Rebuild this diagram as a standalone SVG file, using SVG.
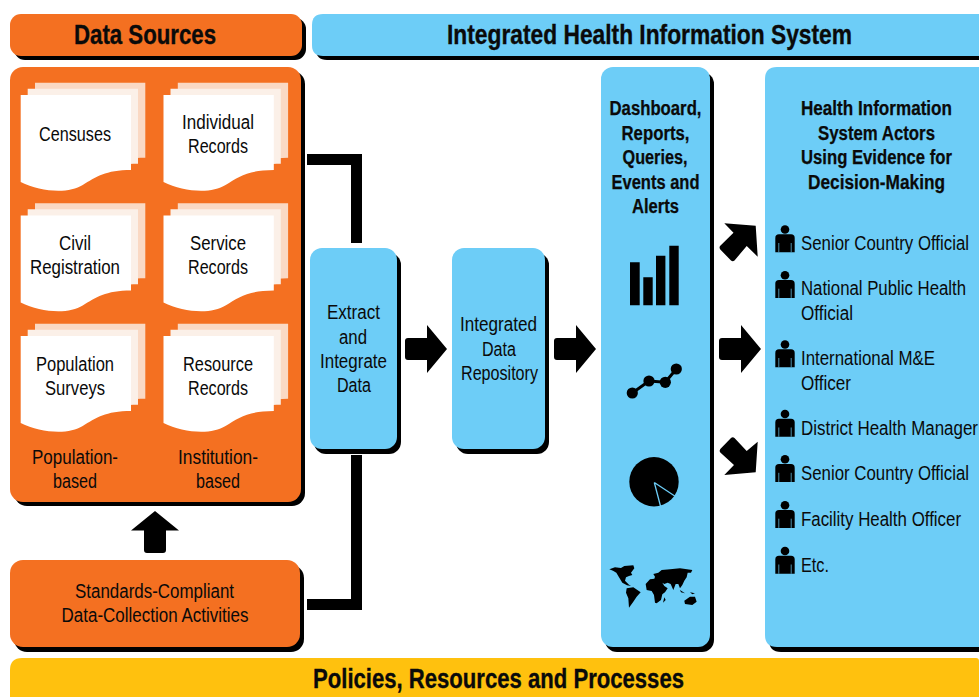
<svg xmlns="http://www.w3.org/2000/svg" width="979" height="697" viewBox="0 0 979 697">
<style>
text{font-family:"Liberation Sans Narrow","Liberation Sans",Arial,sans-serif;fill:#0a0a0a;font-size:20px}
.b{font-weight:bold;stroke:#0a0a0a;stroke-width:0.25}
.h{font-weight:bold;font-size:27px;stroke:#0a0a0a;stroke-width:0.35}
.o{fill:#f47021}.bl{fill:#6dcdf7}.y{fill:#ffc10e}.s{fill:#000}
.d1{fill:#fad9c4}.d2{fill:#fbf0e8}.d3{fill:#fff}
</style>
<defs>
<path id="page" d="M0,0H110.300V75C85,75 75,82 62,90C48,99 20,97 0,87Z"/>
<g id="doc"><use href="#page" class="d1" x="14.300" y="-12.300"/><use href="#page" class="d2" x="7" y="-6.200"/><use href="#page" class="d3"/></g>
<g id="person"><circle cx="10" cy="4.500" r="4.300"/><path d="M0.300,27.200V13Q0.300,9.300 4,9.300H16Q19.700,9.300 19.700,13V27.200Z"/><path d="M3.800,18V27.200M16.200,18V27.200" stroke="#6dcdf7" stroke-width="0.700" fill="none"/></g>
<path id="arr" d="M3,-11H22V-24L42,0L22,24V11H3Q0,11 0,8V-8Q0,-11 3,-11Z"/>
</defs>

<g id="connectors">
<path d="M307,159.500H356.500V243" fill="none" stroke="#000" stroke-width="11"/>
<path d="M307,604.500H356.500V455" fill="none" stroke="#000" stroke-width="11"/>
<path d="M155,511L179,530.500H166V550Q166,553 163,553H147Q144,553 144,550V530.500H131Z"/>
<use href="#arr" x="405" y="349"/>
<use href="#arr" x="554" y="349"/>
<use href="#arr" x="719" y="349"/>
<path d="M724.300,223.300L755.700,225.700L757.700,256.700L746.700,246L734.500,260.500Q732.700,262 731,260.500L720.300,249.500Q718.800,247.500 720.300,245.800L733.500,232.700Z"/>
<path d="M757.700,441.700L755.700,472.300L724.300,475L734,465L720.300,452.500Q718.800,451 720.300,449L731,438Q732.700,436.300 734.500,438L746.700,451Z"/>
</g>

<g id="data-sources-header">
<rect class="s" x="14" y="18" width="292" height="42" rx="11"/>
<rect class="o" x="10" y="14" width="292" height="42" rx="11"/>
<text class="h" x="74" y="44" textLength="142" lengthAdjust="spacingAndGlyphs">Data Sources</text>
</g>
<g id="ihis-header">
<path class="s" d="M327,18H979V60H327Q316,60 316,49V29Q316,18 327,18Z"/>
<path class="bl" d="M323,14H979V56H323Q312,56 312,45V25Q312,14 323,14Z"/>
<text class="h" x="447" y="44" textLength="405" lengthAdjust="spacingAndGlyphs">Integrated Health Information System</text>
</g>

<g id="data-sources">
<rect class="s" x="14" y="71" width="291" height="435" rx="13"/>
<rect class="o" x="10" y="67" width="291" height="435" rx="13"/>
<use href="#doc" x="20.700" y="95"/><use href="#doc" x="163.500" y="95"/>
<use href="#doc" x="20.700" y="215.500"/><use href="#doc" x="163.500" y="215.500"/>
<use href="#doc" x="20.700" y="336"/><use href="#doc" x="163.500" y="336"/>
<text x="39" y="141" textLength="72" lengthAdjust="spacingAndGlyphs">Censuses</text>
<text x="182" y="129" textLength="72" lengthAdjust="spacingAndGlyphs">Individual</text>
<text x="188" y="153" textLength="60" lengthAdjust="spacingAndGlyphs">Records</text>
<text x="59" y="249.500" textLength="32" lengthAdjust="spacingAndGlyphs">Civil</text>
<text x="30" y="274" textLength="90" lengthAdjust="spacingAndGlyphs">Registration</text>
<text x="190" y="249.500" textLength="56" lengthAdjust="spacingAndGlyphs">Service</text>
<text x="188" y="274" textLength="60" lengthAdjust="spacingAndGlyphs">Records</text>
<text x="36" y="371" textLength="78" lengthAdjust="spacingAndGlyphs">Population</text>
<text x="45" y="395" textLength="60" lengthAdjust="spacingAndGlyphs">Surveys</text>
<text x="183" y="371" textLength="70" lengthAdjust="spacingAndGlyphs">Resource</text>
<text x="188" y="395" textLength="60" lengthAdjust="spacingAndGlyphs">Records</text>
<text x="32" y="464" textLength="86" lengthAdjust="spacingAndGlyphs">Population-</text>
<text x="53" y="488" textLength="44" lengthAdjust="spacingAndGlyphs">based</text>
<text x="178" y="464" textLength="80" lengthAdjust="spacingAndGlyphs">Institution-</text>
<text x="196" y="488" textLength="44" lengthAdjust="spacingAndGlyphs">based</text>
</g>

<g id="standards">
<rect class="s" x="14" y="565" width="290" height="87" rx="13"/>
<rect class="o" x="10" y="560" width="290" height="87" rx="13"/>
<text x="75" y="597.500" textLength="159" lengthAdjust="spacingAndGlyphs">Standards-Compliant</text>
<text x="61.500" y="622" textLength="187" lengthAdjust="spacingAndGlyphs">Data-Collection Activities</text>
</g>

<g id="extract">
<rect class="s" x="314" y="253" width="87" height="201" rx="12"/>
<rect class="bl" x="310" y="248" width="87" height="201" rx="12"/>
<text x="327" y="319" textLength="53" lengthAdjust="spacingAndGlyphs">Extract</text>
<text x="339" y="344" textLength="28" lengthAdjust="spacingAndGlyphs">and</text>
<text x="320" y="368" textLength="67" lengthAdjust="spacingAndGlyphs">Integrate</text>
<text x="337" y="392" textLength="34" lengthAdjust="spacingAndGlyphs">Data</text>
</g>

<g id="repository">
<rect class="s" x="456" y="253" width="93" height="201" rx="12"/>
<rect class="bl" x="452" y="248" width="93" height="201" rx="12"/>
<text x="460" y="331" textLength="77" lengthAdjust="spacingAndGlyphs">Integrated</text>
<text x="482" y="356" textLength="34" lengthAdjust="spacingAndGlyphs">Data</text>
<text x="461" y="380" textLength="77" lengthAdjust="spacingAndGlyphs">Repository</text>
</g>

<g id="dashboard">
<rect class="s" x="605" y="72" width="109" height="580" rx="12"/>
<rect class="bl" x="601" y="67" width="109" height="580" rx="12"/>
<text class="b" x="609.500" y="115" textLength="92" lengthAdjust="spacingAndGlyphs">Dashboard,</text>
<text class="b" x="621.500" y="140" textLength="68" lengthAdjust="spacingAndGlyphs">Reports,</text>
<text class="b" x="622.500" y="164" textLength="65" lengthAdjust="spacingAndGlyphs">Queries,</text>
<text class="b" x="611.500" y="189" textLength="88" lengthAdjust="spacingAndGlyphs">Events and</text>
<text class="b" x="632" y="213" textLength="47" lengthAdjust="spacingAndGlyphs">Alerts</text>
<path d="M630,262.300h9.700V305.300H630ZM643.300,277.300h9.400V305.300h-9.400ZM656,255.700h9.400V305.300H656ZM669.300,245.700h9.400V305.300h-9.400Z"/>
<path d="M632.300,393L649,381L665.300,382.300L676.300,369" fill="none" stroke="#000" stroke-width="3"/>
<circle cx="632.300" cy="393" r="5.600"/><circle cx="649" cy="381" r="5.600"/><circle cx="665.300" cy="382.300" r="5.600"/><circle cx="676.300" cy="369" r="5.600"/>
<circle cx="654" cy="481.700" r="24.700"/>
<path d="M654.300,482.500L677,497.500M654.300,482.500L661,508" fill="none" stroke="#6dcdf7" stroke-width="1.300"/>
<g transform="translate(605 560) scale(0.3333)">
<path d="M13,28L30,22L48,24L58,18L85,16L88,25L78,38L82,45L72,48L63,52L60,62L72,74L78,78L66,76L52,68L42,52L34,38L24,32Z"/>
<path d="M65,85L85,82L107,97L95,110L85,125L72,143L70,115L63,98Z"/>
<path d="M122,72L135,58L148,56L150,50L145,42L160,38L170,30L195,28L225,25L262,30L258,38L248,38L245,52L238,62L232,75L225,85L220,72L212,72L205,90L197,72L188,68L178,72L172,68L178,78L188,85L180,97L172,103L168,120L155,130L150,128L147,105L140,93L125,90Z"/>
<path d="M238,122L255,110L270,110L275,125L262,135L240,132Z"/>
<path d="M225,90L240,100L228,97ZM255,97L270,100L262,103ZM178,112L182,120L174,128Z"/>
</g>
</g>

<g id="actors">
<path class="s" d="M781,72H979V652H781Q769,652 769,640V84Q769,72 781,72Z"/>
<path class="bl" d="M777,67H979V647H777Q765,647 765,635V79Q765,67 777,67Z"/>
<text class="b" x="801" y="115" textLength="151" lengthAdjust="spacingAndGlyphs">Health Information</text>
<text class="b" x="818" y="140" textLength="117" lengthAdjust="spacingAndGlyphs">System Actors</text>
<text class="b" x="801" y="164" textLength="151" lengthAdjust="spacingAndGlyphs">Using Evidence for</text>
<text class="b" x="808" y="189" textLength="137" lengthAdjust="spacingAndGlyphs">Decision-Making</text>
<use href="#person" x="775" y="225"/>
<use href="#person" x="775" y="270.700"/>
<use href="#person" x="775" y="340"/>
<use href="#person" x="775" y="409.500"/>
<use href="#person" x="775" y="454.800"/>
<use href="#person" x="775" y="500.700"/>
<use href="#person" x="775" y="546.500"/>
<text x="801" y="250" textLength="168" lengthAdjust="spacingAndGlyphs">Senior Country Official</text>
<text x="801" y="295" textLength="165" lengthAdjust="spacingAndGlyphs">National Public Health</text>
<text x="801" y="320" textLength="52" lengthAdjust="spacingAndGlyphs">Official</text>
<text x="801" y="365" textLength="134" lengthAdjust="spacingAndGlyphs">International M&amp;E</text>
<text x="801" y="390" textLength="50" lengthAdjust="spacingAndGlyphs">Officer</text>
<text x="801" y="435" textLength="177" lengthAdjust="spacingAndGlyphs">District Health Manager</text>
<text x="801" y="480" textLength="168" lengthAdjust="spacingAndGlyphs">Senior Country Official</text>
<text x="801" y="526" textLength="160" lengthAdjust="spacingAndGlyphs">Facility Health Officer</text>
<text x="801" y="572" textLength="28" lengthAdjust="spacingAndGlyphs">Etc.</text>
</g>

<g id="policies">
<path class="y" d="M22,658H976Q979,658 979,661V697H10V670Q10,658 22,658Z"/>
<text class="h" x="313" y="688" textLength="371" lengthAdjust="spacingAndGlyphs">Policies, Resources and Processes</text>
</g>
</svg>
